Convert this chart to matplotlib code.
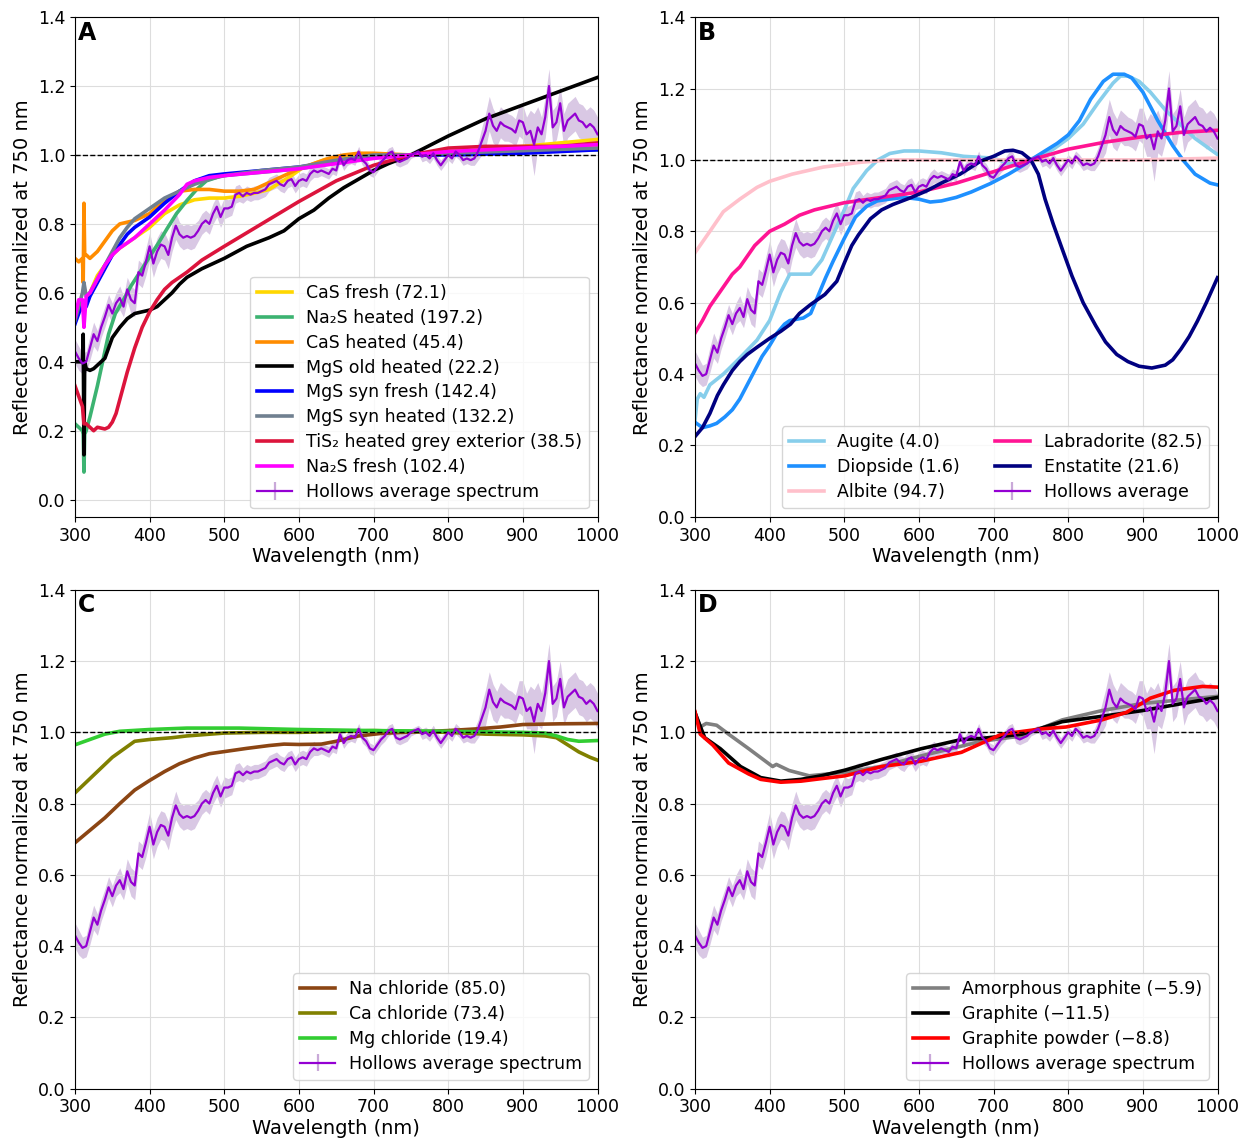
import matplotlib
matplotlib.use("Agg")
import matplotlib.pyplot as plt

# ---- Hollows average spectrum (shared by all panels) ----
hollows_wl = list(range(300, 1001, 5))
hollows_val = [
    0.43, 0.41, 0.395, 0.40, 0.44, 0.48, 0.46, 0.50, 0.53, 0.565,
    0.54, 0.57, 0.585, 0.56, 0.61, 0.58, 0.57, 0.66, 0.65, 0.69,
    0.735, 0.685, 0.72, 0.74, 0.735, 0.71, 0.76, 0.795, 0.77, 0.76,
    0.765, 0.76, 0.765, 0.78, 0.80, 0.81, 0.80, 0.83, 0.85, 0.82,
    0.845, 0.845, 0.85, 0.885, 0.89, 0.88, 0.89, 0.885, 0.89, 0.89,
    0.895, 0.90, 0.915, 0.92, 0.925, 0.915, 0.91, 0.925, 0.93, 0.91,
    0.925, 0.93, 0.925, 0.945, 0.955, 0.95, 0.955, 0.95, 0.945, 0.96,
    0.955, 0.995, 0.97, 0.985, 0.99, 0.985, 1.01, 0.985, 0.975, 0.955,
    0.95, 0.965, 0.98, 0.99, 1.005, 1.01, 0.985, 0.98, 0.985, 0.99,
    1.0, 1.005, 1.01, 0.995, 1.0, 0.99, 1.005, 0.985, 0.97, 0.985,
    1.0, 0.99, 1.01, 1.0, 0.985, 0.99, 0.985, 0.99, 1.01, 1.04,
    1.07, 1.12, 1.085, 1.07, 1.095, 1.085, 1.08, 1.075, 1.065, 1.10,
    1.095, 1.06, 1.07, 1.03, 1.08, 1.06, 1.11, 1.20, 1.08, 1.095,
    1.15, 1.07, 1.10, 1.11, 1.12, 1.10, 1.095, 1.08, 1.09, 1.08,
    1.06,
]
hollows_err = [
    0.035, 0.035, 0.03, 0.03, 0.035, 0.035, 0.03, 0.03, 0.03, 0.03,
    0.03, 0.03, 0.035, 0.03, 0.035, 0.04, 0.04, 0.035, 0.035, 0.04,
    0.04, 0.04, 0.04, 0.04, 0.04, 0.04, 0.04, 0.04, 0.035, 0.035,
    0.035, 0.035, 0.035, 0.03, 0.03, 0.03, 0.03, 0.03, 0.03, 0.03,
    0.03, 0.025, 0.025, 0.025, 0.025, 0.02, 0.02, 0.02, 0.02, 0.02,
    0.02, 0.02, 0.02, 0.02, 0.02, 0.02, 0.02, 0.02, 0.02, 0.02,
    0.02, 0.02, 0.02, 0.02, 0.02, 0.015, 0.015, 0.015, 0.015, 0.015,
    0.015, 0.015, 0.015, 0.015, 0.015, 0.015, 0.015, 0.015, 0.015, 0.015,
    0.015, 0.015, 0.015, 0.015, 0.015, 0.015, 0.015, 0.015, 0.015, 0.015,
    0.01, 0.01, 0.01, 0.015, 0.015, 0.015, 0.015, 0.015, 0.015, 0.015,
    0.015, 0.015, 0.015, 0.015, 0.015, 0.015, 0.015, 0.02, 0.025, 0.04,
    0.05, 0.05, 0.05, 0.045, 0.045, 0.045, 0.04, 0.04, 0.04, 0.045,
    0.05, 0.05, 0.06, 0.09, 0.06, 0.05, 0.06, 0.05, 0.05, 0.05,
    0.05, 0.05, 0.05, 0.05, 0.05, 0.05, 0.05, 0.05, 0.05, 0.05,
    0.05,
]

# ---- Panel A: sulfides ----
cas_fresh_wl = [310, 320, 330, 340, 350, 360, 380, 400, 420, 440, 460, 480, 500, 520, 540,
                560, 575, 590, 603, 620, 635, 660, 700, 750, 800, 850, 900, 950, 1000]
cas_fresh = [0.55, 0.60, 0.65, 0.68, 0.71, 0.73, 0.76, 0.79, 0.83, 0.855, 0.87, 0.875, 0.875, 0.88, 0.889,
             0.90, 0.92, 0.94, 0.96, 0.975, 0.987, 0.995, 1.0, 1.0, 1.01, 1.015, 1.025, 1.035, 1.045]

na2s_heated_wl = [300, 305, 310, 311, 312, 313, 315, 320, 330, 338, 345, 354, 365, 375, 390, 400, 412,
                  423, 436, 450, 463, 476, 497, 550, 600, 650, 700, 750, 800, 900, 1000]
na2s_heated = [0.22, 0.21, 0.20, 0.19, 0.08, 0.19, 0.20, 0.24, 0.33, 0.41, 0.48, 0.54, 0.58, 0.62, 0.67, 0.705, 0.745,
               0.785, 0.83, 0.868, 0.90, 0.925, 0.94, 0.95, 0.96, 0.978, 0.995, 1.0, 1.005, 1.01, 1.015]

cas_heated_wl = [300, 305, 310, 311, 312, 313, 315, 320, 330, 340, 350, 360, 380, 400, 420, 440, 460, 480,
                 500, 520, 540, 560, 580, 600, 620, 640, 660, 680, 700, 750, 800, 900, 1000]
cas_heated = [0.70, 0.69, 0.70, 0.63, 0.86, 0.71, 0.71, 0.70, 0.72, 0.75, 0.78, 0.80, 0.81, 0.83, 0.87, 0.895, 0.90, 0.90,
              0.895, 0.895, 0.90, 0.92, 0.94, 0.96, 0.975, 0.99, 1.0, 1.005, 1.005, 1.0, 1.01, 1.02, 1.03]

mgs_old_wl = [300, 305, 310, 311, 312, 313, 315, 320, 325, 330, 335, 340, 345, 350, 360, 370, 380, 390, 400, 410,
              420, 430, 440, 450, 470, 500, 530, 560, 580, 600, 620, 640, 660, 680, 700, 720, 750, 800, 850,
              900, 950, 1000]
mgs_old = [0.40, 0.40, 0.40, 0.48, 0.13, 0.40, 0.38, 0.375, 0.38, 0.39, 0.40, 0.41, 0.44, 0.47, 0.50, 0.525, 0.54, 0.545, 0.55, 0.56,
           0.58, 0.60, 0.625, 0.645, 0.67, 0.70, 0.735, 0.76, 0.78, 0.815, 0.84, 0.875, 0.905, 0.93, 0.955, 0.975, 1.0, 1.055, 1.105,
           1.145, 1.185, 1.225]

mgs_syn_fresh_wl = [300, 305, 310, 315, 320, 330, 340, 350, 360, 370, 380, 400, 420, 440, 450, 460, 480, 500,
                    550, 600, 650, 700, 750, 800, 900, 1000]
mgs_syn_fresh = [0.51, 0.54, 0.57, 0.56, 0.59, 0.63, 0.67, 0.71, 0.74, 0.77, 0.79, 0.82, 0.86, 0.895, 0.91, 0.925, 0.94, 0.945,
                 0.955, 0.965, 0.98, 0.995, 1.0, 1.0, 1.005, 1.015]

mgs_syn_heated_wl = [300, 310, 312, 315, 320, 330, 340, 350, 360, 370, 380, 400, 420, 440, 460, 480, 500,
                     550, 600, 650, 700, 750, 800, 1000]
mgs_syn_heated = [0.52, 0.60, 0.63, 0.59, 0.60, 0.64, 0.68, 0.72, 0.76, 0.79, 0.815, 0.845, 0.875, 0.895, 0.915, 0.93, 0.94,
                  0.955, 0.965, 0.985, 1.0, 1.0, 1.005, 1.02]

tis2_wl = [300, 305, 310, 312, 315, 320, 325, 330, 340, 345, 350, 355, 360, 365, 370, 380, 390, 400, 410, 420,
           430, 440, 450, 470, 500, 550, 600, 650, 700, 750, 800, 850, 900, 950, 1000]
tis2 = [0.33, 0.30, 0.27, 0.22, 0.22, 0.21, 0.20, 0.21, 0.205, 0.21, 0.225, 0.25, 0.29, 0.33, 0.37, 0.44, 0.50, 0.545, 0.58, 0.61,
        0.63, 0.645, 0.66, 0.695, 0.735, 0.80, 0.865, 0.925, 0.97, 1.0, 1.02, 1.025, 1.025, 1.025, 1.035]

na2s_fresh_wl = [300, 305, 310, 312, 315, 320, 330, 340, 350, 360, 370, 380, 400, 420, 440, 450, 460, 480,
                 500, 550, 600, 650, 700, 750, 800, 850, 900, 1000]
na2s_fresh = [0.53, 0.58, 0.58, 0.50, 0.59, 0.60, 0.64, 0.68, 0.71, 0.73, 0.745, 0.76, 0.80, 0.84, 0.885, 0.915, 0.925, 0.935,
              0.94, 0.95, 0.96, 0.975, 0.99, 1.0, 1.01, 1.015, 1.02, 1.03]

# ---- Panel B: silicates ----
augite_wl = [300, 303, 307, 312, 320, 338, 360, 383, 400, 415, 427, 445, 455, 470, 485, 500, 512, 530, 545,
             561, 580, 600, 630, 660, 700, 720, 750, 780, 800, 820, 840, 860, 870, 880, 895, 910, 930, 950,
             970, 990, 1000]
augite = [0.27, 0.33, 0.345, 0.335, 0.37, 0.40, 0.445, 0.495, 0.55, 0.63, 0.68, 0.68, 0.68, 0.72, 0.79, 0.86, 0.92, 0.97, 1.0,
          1.018, 1.025, 1.025, 1.02, 1.01, 1.005, 0.99, 1.0, 1.03, 1.06, 1.10, 1.16, 1.215, 1.235, 1.235, 1.22, 1.19, 1.14, 1.10,
          1.06, 1.03, 1.015]

diopside_wl = [300, 310, 320, 329, 340, 350, 360, 370, 380, 390, 400, 410, 420, 427, 445, 455, 465, 475, 485,
               500, 515, 530, 544, 560, 580, 600, 615, 630, 650, 670, 696, 720, 740, 750, 765, 785, 800, 815,
               830, 847, 860, 875, 885, 900, 920, 940, 954, 970, 990, 1000]
diopside = [0.265, 0.25, 0.255, 0.262, 0.28, 0.30, 0.33, 0.37, 0.41, 0.45, 0.48, 0.515, 0.54, 0.55, 0.557, 0.57, 0.62, 0.67, 0.716,
            0.78, 0.84, 0.87, 0.885, 0.89, 0.895, 0.89, 0.882, 0.885, 0.895, 0.91, 0.934, 0.96, 0.985, 1.0, 1.02, 1.046, 1.07, 1.11,
            1.17, 1.22, 1.24, 1.24, 1.23, 1.19, 1.11, 1.04, 0.999, 0.96, 0.935, 0.93]

albite_wl = [300, 310, 320, 338, 360, 383, 400, 430, 472, 520, 561, 600, 700, 800, 900, 1000]
albite = [0.74, 0.77, 0.80, 0.855, 0.89, 0.923, 0.94, 0.96, 0.98, 0.993, 1.0, 1.0, 1.0, 1.0, 1.0, 1.005]

labradorite_wl = [300, 310, 320, 330, 340, 350, 360, 370, 380, 390, 400, 420, 440, 460, 480, 500, 550, 600,
                  650, 700, 750, 800, 850, 900, 950, 1000]
labradorite = [0.515, 0.55, 0.59, 0.62, 0.65, 0.68, 0.70, 0.73, 0.76, 0.78, 0.80, 0.82, 0.845, 0.86, 0.87, 0.88, 0.895, 0.91,
               0.935, 0.967, 1.0, 1.03, 1.05, 1.065, 1.077, 1.083]

enstatite_wl = [300, 310, 320, 330, 338, 350, 360, 370, 383, 400, 415, 428, 440, 455, 474, 490, 501, 510, 519,
                535, 550, 565, 590, 610, 630, 655, 683, 700, 715, 726, 738, 750, 760, 769, 780, 792, 805, 820,
                837, 850, 865, 880, 895, 912, 930, 940, 951, 962, 973, 985, 1000]
enstatite = [0.225, 0.25, 0.29, 0.34, 0.37, 0.41, 0.435, 0.455, 0.475, 0.50, 0.52, 0.54, 0.57, 0.595, 0.623, 0.66, 0.716, 0.76, 0.79,
             0.835, 0.86, 0.875, 0.895, 0.913, 0.935, 0.96, 0.997, 1.01, 1.025, 1.027, 1.02, 1.0, 0.96, 0.89, 0.82, 0.75, 0.675, 0.60,
             0.535, 0.49, 0.455, 0.435, 0.422, 0.417, 0.425, 0.44, 0.47, 0.505, 0.548, 0.60, 0.67]

# ---- Panel C: chlorides ----
na_chloride_wl = [300, 320, 340, 360, 380, 400, 420, 440, 460, 480, 500, 530, 560, 580, 600, 630, 650, 680,
                  710, 740, 800, 840, 870, 900, 950, 1000]
na_chloride = [0.69, 0.725, 0.76, 0.80, 0.838, 0.865, 0.89, 0.912, 0.928, 0.94, 0.946, 0.955, 0.963, 0.967, 0.966, 0.967, 0.975, 0.99,
               0.997, 1.0, 1.005, 1.01, 1.015, 1.022, 1.024, 1.025]

ca_chloride_wl = [300, 310, 320, 330, 340, 350, 360, 370, 380, 400, 430, 450, 500, 550, 600, 700, 800, 850,
                  900, 930, 945, 960, 975, 990, 1000]
ca_chloride = [0.83, 0.85, 0.87, 0.89, 0.91, 0.93, 0.945, 0.96, 0.975, 0.98, 0.985, 0.99, 0.998, 1.0, 1.0, 1.005, 1.0, 0.995,
               0.993, 0.99, 0.985, 0.965, 0.945, 0.93, 0.922]

mg_chloride_wl = [300, 320, 340, 360, 400, 450, 520, 600, 700, 800, 900, 930, 945, 960, 975, 1000]
mg_chloride = [0.965, 0.98, 0.995, 1.003, 1.008, 1.012, 1.012, 1.008, 1.005, 1.003, 1.0, 0.998, 0.99, 0.98, 0.975, 0.977]

# ---- Panel D: graphites ----
amorph_wl = [300, 307, 315, 329, 345, 372, 404, 409, 426, 453, 501, 550, 603, 684, 738, 792, 845, 899, 1000]
amorph = [1.055, 1.015, 1.025, 1.02, 0.995, 0.954, 0.904, 0.91, 0.893, 0.878, 0.888, 0.904, 0.934, 0.975, 0.99, 1.035, 1.061,
          1.081, 1.101]

graphite_wl = [300, 313, 334, 361, 388, 415, 442, 469, 501, 550, 603, 657, 684, 738, 792, 845, 899, 953, 1000]
graphite = [1.055, 0.985, 0.954, 0.904, 0.873, 0.863, 0.868, 0.878, 0.894, 0.924, 0.954, 0.98, 0.983, 0.995, 1.03, 1.045, 1.061,
            1.081, 1.098]

powder_wl = [300, 307, 324, 345, 372, 388, 415, 442, 469, 501, 550, 603, 657, 711, 765, 797, 845, 878, 910,
             942, 980, 1000]
powder = [1.058, 0.995, 0.964, 0.914, 0.883, 0.868, 0.86, 0.863, 0.87, 0.878, 0.904, 0.919, 0.944, 0.995, 1.01, 1.015, 1.035,
          1.056, 1.096, 1.118, 1.129, 1.127]

panels = [
    ("A", [(cas_fresh_wl, cas_fresh, "gold", "CaS fresh (72.1)"),
           (na2s_heated_wl, na2s_heated, "mediumseagreen", "Na\u2082S heated (197.2)"),
           (cas_heated_wl, cas_heated, "darkorange", "CaS heated (45.4)"),
           (mgs_old_wl, mgs_old, "black", "MgS old heated (22.2)"),
           (mgs_syn_fresh_wl, mgs_syn_fresh, "blue", "MgS syn fresh (142.4)"),
           (mgs_syn_heated_wl, mgs_syn_heated, "slategray", "MgS syn heated (132.2)"),
           (tis2_wl, tis2, "crimson", "TiS\u2082 heated grey exterior (38.5)"),
           (na2s_fresh_wl, na2s_fresh, "magenta", "Na\u2082S fresh (102.4)")],
     "Hollows average spectrum", 1, (-0.05, 1.4)),
    ("B", [(augite_wl, augite, "skyblue", "Augite (4.0)"),
           (diopside_wl, diopside, "dodgerblue", "Diopside (1.6)"),
           (albite_wl, albite, "pink", "Albite (94.7)"),
           (labradorite_wl, labradorite, "deeppink", "Labradorite (82.5)"),
           (enstatite_wl, enstatite, "navy", "Enstatite (21.6)")],
     "Hollows average", 2, (0, 1.4)),
    ("C", [(na_chloride_wl, na_chloride, "saddlebrown", "Na chloride (85.0)"),
           (ca_chloride_wl, ca_chloride, "olive", "Ca chloride (73.4)"),
           (mg_chloride_wl, mg_chloride, "limegreen", "Mg chloride (19.4)")],
     "Hollows average spectrum", 1, (0, 1.4)),
    ("D", [(amorph_wl, amorph, "gray", "Amorphous graphite (\u22125.9)"),
           (graphite_wl, graphite, "black", "Graphite (\u221211.5)"),
           (powder_wl, powder, "red", "Graphite powder (\u22128.8)")],
     "Hollows average spectrum", 1, (0, 1.4)),
]

positions = [[0.060, 0.547, 0.418, 0.438], [0.556, 0.547, 0.418, 0.438],
             [0.060, 0.046, 0.418, 0.437], [0.556, 0.046, 0.418, 0.437]]

lo = [v - e for v, e in zip(hollows_val, hollows_err)]
hi = [v + e for v, e in zip(hollows_val, hollows_err)]

fig = plt.figure(figsize=(12.5, 11.41), dpi=100)
for (letter, series, hlabel, ncol, ylim), pos in zip(panels, positions):
    ax = fig.add_axes(pos)
    for wl, vals, col, lab in series:
        ax.plot(wl, vals, color=col, lw=2.6, label=lab)
    ax.fill_between(hollows_wl, lo, hi, color="#9b6fb8", alpha=0.38, lw=0)
    ax.errorbar(hollows_wl, hollows_val, yerr=hollows_err, color="darkviolet", lw=1.6,
                ecolor="#c9a9d9", errorevery=(len(hollows_wl), 1), label=hlabel)
    ax.axhline(1.0, color="black", ls="--", lw=1)
    ax.set_xlim(300, 1000)
    ax.set_ylim(*ylim)
    ax.set_xticks(range(300, 1001, 100))
    ax.set_yticks([0, 0.2, 0.4, 0.6, 0.8, 1.0, 1.2, 1.4])
    ax.grid(True, color="#dddddd", lw=0.8)
    ax.tick_params(labelsize=12.5)
    ax.set_xlabel("Wavelength (nm)", fontsize=14, labelpad=2)
    ax.set_ylabel("Reflectance normalized at 750 nm", fontsize=14)
    ax.text(0.006, 0.993, letter, transform=ax.transAxes, fontsize=17, fontweight="heavy",
            va="top", ha="left")
    ax.legend(loc="lower right", ncol=ncol, fontsize=12.5, handlelength=2.0,
              labelspacing=0.4)

fig.savefig("out.png", dpi=100)
